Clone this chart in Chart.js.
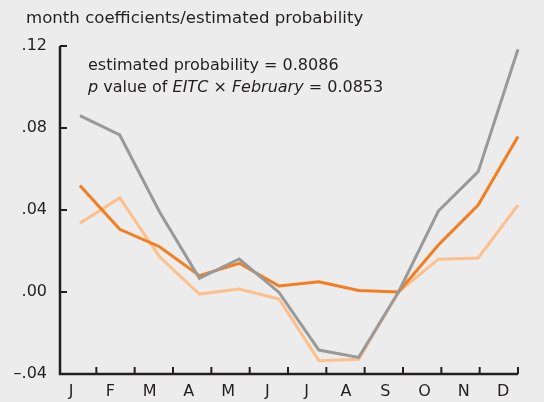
<!DOCTYPE html>
<html>
<head>
<meta charset="utf-8">
<script src="https://cdn.jsdelivr.net/npm/chart.js@4"></script>
<style>
  html, body { margin: 0; padding: 0; background: #ececec; }
  #wrap { width: 544px; height: 402px; }
</style>
</head>
<body>
<div id="wrap"><canvas id="chart"></canvas></div>
<script>
const months = ['J', 'F', 'M', 'A', 'M', 'J', 'J', 'A', 'S', 'O', 'N', 'D'];
const yTicks = [-0.04, 0.00, 0.04, 0.08, 0.12];

// month coefficients
const grayValues = [0.086, 0.0766, 0.039, 0.0067, 0.0161, -0.0002, -0.0283, -0.0319, 0.000, 0.0395, 0.0587, 0.1184];
const orangeValues = [0.052, 0.0306, 0.0221, 0.008, 0.014, 0.0029, 0.005, 0.0007, 0.000, 0.0229, 0.0424, 0.0758];
const lightValues = [0.0335, 0.0459, 0.0172, -0.001, 0.0015, -0.0034, -0.0335, -0.0328, 0.000, 0.016, 0.0166, 0.0424];

const FONT = '"DejaVu Sans", sans-serif';
const INK = '#231f20';

const toPoints = vals => vals.map((v, i) => ({ x: i, y: v }));

// axis lines with inward ticks + header texts
const decor = {
  id: 'decor',
  afterDraw(chart) {
    const ctx = chart.ctx;
    const area = chart.chartArea;
    const y = chart.scales.y;
    ctx.save();
    ctx.strokeStyle = INK;
    ctx.lineWidth = 2.5;
    ctx.beginPath();
    ctx.moveTo(area.left, area.top);
    ctx.lineTo(area.left, area.bottom);
    ctx.lineTo(area.right, area.bottom);
    ctx.stroke();
    ctx.lineWidth = 2;
    yTicks.forEach(t => {
      const py = y.getPixelForValue(t);
      ctx.beginPath();
      ctx.moveTo(area.left, py);
      ctx.lineTo(area.left + 7, py);
      ctx.stroke();
    });
    const step = (area.right - area.left + 2) / months.length;
    months.forEach((m, i) => {
      const px = area.left - 2 + step * (i + 1);
      ctx.beginPath();
      ctx.moveTo(px, area.bottom);
      ctx.lineTo(px, area.bottom - 7);
      ctx.stroke();
    });

    ctx.fillStyle = INK;
    ctx.textBaseline = 'alphabetic';
    ctx.font = '16.6px ' + FONT;
    ctx.fillText('month coefficients/estimated probability', 26, 23);

    ctx.font = '16px ' + FONT;
    ctx.fillText('estimated probability = 0.8086', 88, 70);
    const parts = [['p', true], [' value of ', false], ['EITC', true], [' \u00d7 ', false], ['February', true], [' = 0.0853', false]];
    let cx = 88;
    parts.forEach(([s, it]) => {
      ctx.font = (it ? 'italic ' : '') + '16px ' + FONT;
      ctx.fillText(s, cx, 92);
      cx += ctx.measureText(s).width;
    });
    ctx.restore();
  }
};

new Chart(document.getElementById('chart'), {
  type: 'line',
  data: {
    datasets: [{
      data: toPoints(grayValues),
      borderColor: '#999999',
      xAxisID: 'xd',
      order: 0
    }, {
      data: toPoints(orangeValues),
      borderColor: '#f47d20',
      xAxisID: 'xd',
      order: 1
    }, {
      data: toPoints(lightValues),
      borderColor: '#fdbf8b',
      xAxisID: 'xd',
      order: 2
    }]
  },
  options: {
    responsive: true,
    maintainAspectRatio: false,
    animation: false,
    layout: { padding: { top: 46, right: 26, left: 0, bottom: 0 } },
    elements: {
      line: { borderWidth: 3, tension: 0 },
      point: { radius: 0 }
    },
    clip: false,
    scales: {
      // month labels
      x: {
        type: 'linear',
        position: 'bottom',
        min: -0.28,
        max: 11.38,
        afterBuildTicks: s => { s.ticks = months.map((m, i) => ({ value: i })); },
        grid: { display: false, drawTicks: false },
        border: { display: false },
        ticks: {
          color: INK,
          font: { family: FONT, size: 16 },
          padding: 8,
          maxRotation: 0,
          autoSkip: false,
          callback: v => months[v]
        },
        afterFit: s => { s.height = 28; }
      },
      // data positions
      xd: {
        type: 'linear',
        display: false,
        min: -0.5,
        max: 11
      },
      y: {
        min: -0.04,
        max: 0.12,
        grid: { display: false, drawTicks: false },
        border: { display: false },
        ticks: {
          stepSize: 0.04,
          color: INK,
          padding: 13,
          font: { family: FONT, size: 16 },
          callback: v => {
            const s = Math.abs(v).toFixed(2).replace(/^0/, '');
            return v < -1e-9 ? '\u2013' + s : s;
          }
        },
        afterFit: s => { s.width = 60; }
      }
    },
    plugins: {
      legend: { display: false },
      tooltip: { enabled: false }
    }
  },
  plugins: [decor]
});
</script>
</body>
</html>
